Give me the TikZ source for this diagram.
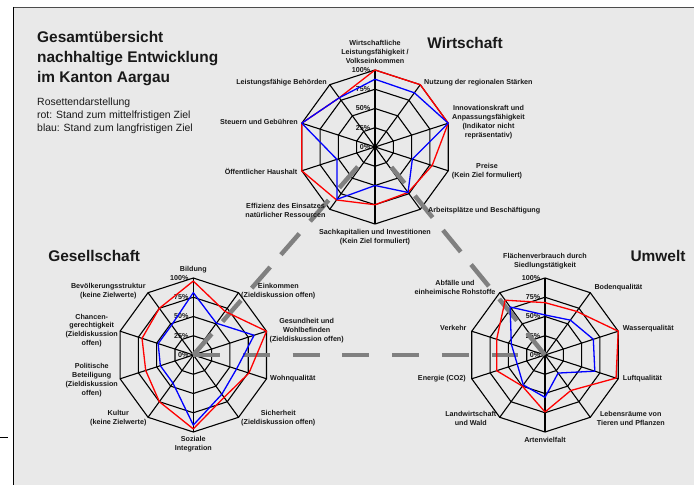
\documentclass[tikz,border=0pt]{standalone}
\usepackage{fontspec}
\setmainfont{Liberation Sans}
\usetikzlibrary{calc}
\definecolor{bggray}{HTML}{E9E9E9}
\tikzset{
  gridline/.style={draw=black, line width=1.1bp, line join=miter},
  redline/.style={draw=red, line width=1.3bp, line join=round},
  blueline/.style={draw=blue, line width=1.3bp, line join=round},
  conn/.style={draw=black!50, line width=4.5bp},
  diagdash/.style={conn, dash pattern=on 28bp off 16.4bp},
  horizdash/.style={conn, dash pattern=on 27bp off 22.7bp},
  lab/.style={font=\bfseries\fontsize{7.2}{9}\selectfont, align=center, inner sep=0pt, text=black!90},
  pct/.style={lab, anchor=east},
  head/.style={font=\bfseries\fontsize{15.5}{18}\selectfont, inner sep=0pt, anchor=base, text=black!90},
  titletext/.style={font=\bfseries\fontsize{15.5}{19}\selectfont, inner sep=0pt, anchor=base west, text=black!90},
  legendtext/.style={font=\fontsize{10.5}{12.5}\selectfont, inner sep=0pt, anchor=base west, text=black!90},
}
\newcommand\rosgrid[1]{%
  \begin{scope}[shift={(#1)}, x=0.77bp, y=-0.77bp]
    \foreach \p in {0,25,50,75,100} \node[pct] (#1-p\p) at (-6,-\p) {\p\%};
    \foreach \k in {25,50,75,100}
      \draw[gridline] (-90:\k) -- (-54:\k) -- (-18:\k) -- (18:\k) -- (54:\k) -- (90:\k) -- (126:\k) -- (162:\k) -- (198:\k) -- (234:\k) -- cycle;
    \foreach \a in {-90,-54,...,234} \draw[gridline] (0,0) -- (\a:100);
    \fill[black] (0,0) circle (2bp);
  \end{scope}}
\begin{document}
\begin{tikzpicture}[x=1bp, y=-1bp]
\useasboundingbox (0,0) rectangle (694,485);
\fill[white] (0,0) rectangle (694,485);
\fill[bggray] (13.5,7.5) rectangle (694,485);
\draw[line width=1.5bp, black!70] (13,7.5) -- (694,7.5);
\draw[line width=1.5bp, black] (13.5,7) -- (13.5,485);
\draw[line width=1bp, black] (0,437.5) -- (8,437.5);

% rosette centres
\coordinate (W) at (375,147);
\coordinate (G) at (193.3,355);
\coordinate (U) at (545,355);

\rosgrid{W}
\rosgrid{G}
\rosgrid{U}

% dashed connectors (free ends stop short of the target centre)
\coordinate (WfromG) at ($(W)!26bp!(G)$);
\coordinate (WfromU) at ($(W)!26bp!(U)$);
\coordinate (UfromG) at ($(U)!27bp!(G)$);
\draw[diagdash] (G) -- (WfromG);
\draw[diagdash] (U) -- (WfromU);
\draw[horizdash] (G) -- (UfromG);

% data: Wirtschaft
\begin{scope}[shift={(W)}, x=0.77bp, y=-0.77bp]
  \draw[redline] (-90:100) -- (-54:100) -- (-18:100) -- (18:78) -- (54:73) -- (90:75) -- (126:85) -- (162:100) -- (198:100) -- (234:79) -- cycle;
  \draw[blueline] (-90:88) -- (-54:87) -- (-18:100) -- (18:51) -- (54:73) -- (90:50) -- (126:84) -- (162:52) -- (198:100) -- (234:79) -- cycle;
\end{scope}
% data: Gesellschaft
\begin{scope}[shift={(G)}, x=0.77bp, y=-0.77bp]
  \draw[redline] (-90:96) -- (-54:70) -- (-18:100) -- (18:76) -- (54:68) -- (90:96) -- (126:75) -- (162:65) -- (198:70) -- (234:75) -- cycle;
  \draw[blueline] (-90:81) -- (-54:51) -- (-18:83) -- (18:59) -- (54:63) -- (90:91) -- (126:45) -- (162:45) -- (198:48) -- (234:48) -- cycle;
\end{scope}
% data: Umwelt
\begin{scope}[shift={(U)}, x=0.77bp, y=-0.77bp]
  \draw[redline] (-90:68) -- (-54:70) -- (-18:100) -- (18:97) -- (54:57) -- (90:74) -- (126:50) -- (162:66) -- (198:66) -- (234:88) -- cycle;
  \draw[blueline] (-90:52) -- (-54:56) -- (-18:66) -- (18:68) -- (54:29) -- (90:55) -- (126:48) -- (162:38) -- (198:46) -- (234:77) -- cycle;
\end{scope}

% title and legend
\node[titletext] (t1) at (37,42.7) {Gesamtübersicht};
\node[titletext] (t2) at (37,62.7) {nachhaltige Entwicklung};
\node[titletext] (t3) at (37,82.5) {im Kanton Aargau};
\node[legendtext] (l1) at (37,106) {Rosettendarstellung};
\node[legendtext] (l2) at (37,118.7) {rot: Stand zum mittelfristigen Ziel};
\node[legendtext] (l3) at (37,131.3) {blau: Stand zum langfristigen Ziel};

% headings
\node[head] (hW) at (465,49) {Wirtschaft};
\node[head] (hG) at (94.2,261.7) {Gesellschaft};
\node[head] (hU) at (658,261.7) {Umwelt};

% Wirtschaft labels
\node[lab] (w1) at (375,52) {Wirtschaftliche\\Leistungsfähigkeit /\\Volkseinkommen};
\node[lab, anchor=west] (w2) at (424,82.5) {Nutzung der regionalen Stärken};
\node[lab] (w3) at (488.5,122) {Innovationskraft und\\Anpassungsfähigkeit\\(Indikator nicht\\repräsentativ)};
\node[lab] (w4) at (487,171.3) {Preise\\(Kein Ziel formuliert)};
\node[lab, anchor=west] (w5) at (428,210.7) {Arbeitsplätze und Beschäftigung};
\node[lab] (w6) at (375,237) {Sachkapitalien und Investitionen\\(Kein Ziel formuliert)};
\node[lab] (w7) at (285.5,210.7) {Effizienz des Einsatzes\\natürlicher Ressourcen};
\node[lab, anchor=east] (w8) at (297.5,171.7) {Öffentlicher Haushalt};
\node[lab, anchor=east] (w9) at (298,122.3) {Steuern und Gebühren};
\node[lab, anchor=east] (w10) at (327,82.7) {Leistungsfähige Behörden};

% Gesellschaft labels
\node[lab] (g1) at (193.3,270) {Bildung};
\node[lab] (g2) at (278.3,291) {Einkommen\\(Zieldiskussion offen)};
\node[lab] (g3) at (306.7,330.3) {Gesundheit und\\Wohlbefinden\\(Zieldiskussion offen)};
\node[lab, anchor=west] (g4) at (270,378.3) {Wohnqualität};
\node[lab] (g5) at (278.3,417.8) {Sicherheit\\(Zieldiskussion offen)};
\node[lab] (g6) at (193.3,443.7) {Soziale\\Integration};
\node[lab] (g7) at (118.3,417.8) {Kultur\\(keine Zielwerte)};
\node[lab] (g8) at (91.7,379.7) {Politische\\Beteiligung\\(Zieldiskussion\\offen)};
\node[lab] (g9) at (91.7,330.6) {Chancen-\\gerechtigkeit\\(Zieldiskussion\\offen)};
\node[lab] (g10) at (108.3,291) {Bevölkerungsstruktur\\(keine Zielwerte)};

% Umwelt labels
\node[lab] (u1) at (545,261) {Flächenverbrauch durch\\Siedlungstätigkeit};
\node[lab, anchor=west] (u2) at (594.3,287.7) {Bodenqualität};
\node[lab, anchor=west] (u3) at (622.7,328.3) {Wasserqualität};
\node[lab, anchor=west] (u4) at (622.7,378.3) {Luftqualität};
\node[lab] (u5) at (630.8,418.8) {Lebensräume von\\Tieren und Pflanzen};
\node[lab] (u6) at (545,440) {Artenvielfalt};
\node[lab] (u7) at (470.8,418.8) {Landwirtschaft\\und Wald};
\node[lab, anchor=east] (u8) at (466,378.3) {Energie (CO2)};
\node[lab, anchor=east] (u9) at (466.7,328.3) {Verkehr};
\node[lab] (u10) at (455,287.2) {Abfälle und\\einheimische Rohstoffe};
\end{tikzpicture}
\end{document}
